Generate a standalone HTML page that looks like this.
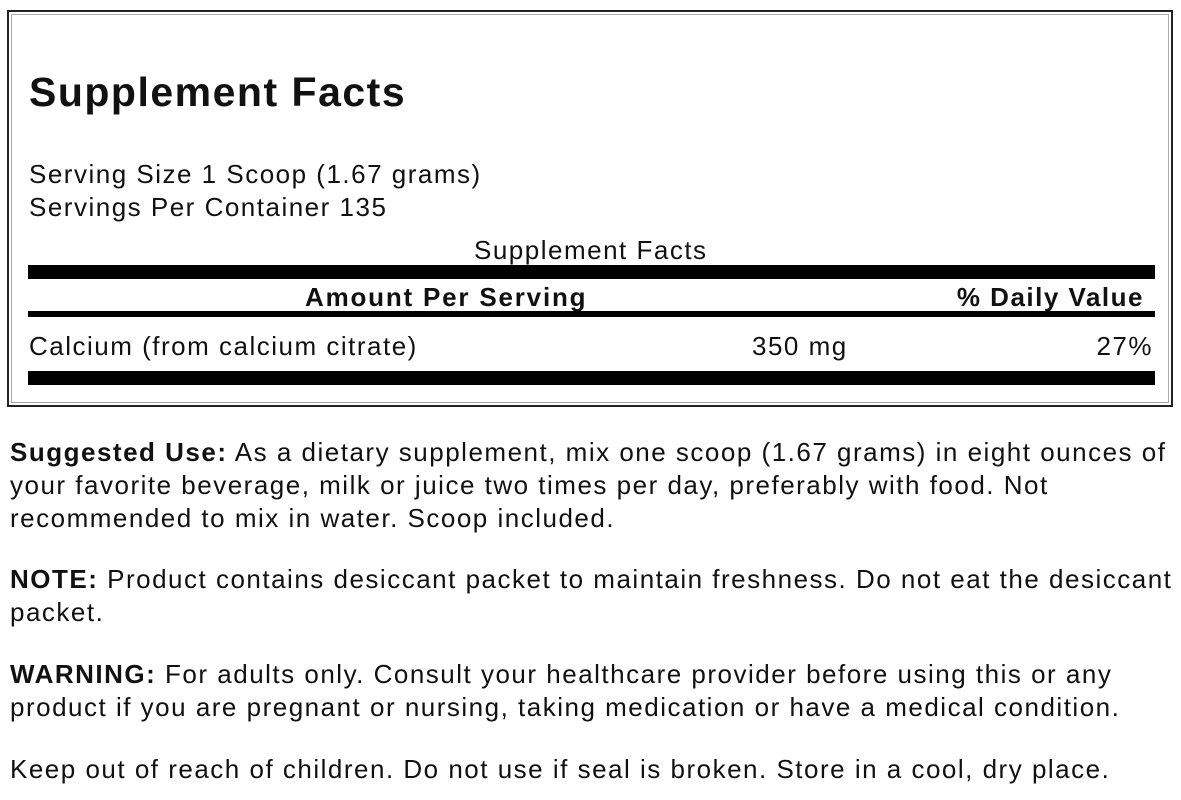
<!DOCTYPE html>
<html><head><style>
body{margin:0;width:1181px;height:800px;background:#fff;position:relative;overflow:hidden;font-family:"Liberation Sans",Arial,sans-serif;color:#111;letter-spacing:1.5px}
.a{position:absolute;white-space:nowrap;line-height:1}
.bar{position:absolute;background:#000;left:28px;width:1127px}
.t{font-size:26px}
</style></head><body>
<div style="position:absolute;left:7px;top:10px;width:1162px;height:393px;border:2px solid #222"></div>
<div style="position:absolute;left:11px;top:14px;width:1156px;height:387px;border:1px solid #aaa"></div>
<div class="a" style="left:29px;top:72px;font-size:41px;font-weight:bold">Supplement Facts</div>
<div class="a t" style="left:29px;top:161px">Serving Size 1 Scoop (1.67 grams)</div>
<div class="a t" style="left:29px;top:194px">Servings Per Container 135</div>
<div class="a t" style="left:474px;top:237px">Supplement Facts</div>
<div class="bar" style="top:265px;height:14px"></div>
<div class="a t" style="left:305px;top:284px;font-weight:bold;letter-spacing:1.8px">Amount Per Serving</div>
<div class="a t" style="right:37px;top:284px;font-weight:bold">% Daily Value</div>
<div class="bar" style="top:311px;height:6px"></div>
<div class="a t" style="left:29px;top:333px">Calcium (from calcium citrate)</div>
<div class="a t" style="left:752px;top:333px">350 mg</div>
<div class="a t" style="right:28px;top:333px">27%</div>
<div class="bar" style="top:371px;height:14px"></div>
<div class="a t" style="left:10px;top:439px"><b>Suggested Use:</b> As a dietary supplement, mix one scoop (1.67 grams) in eight ounces of</div>
<div class="a t" style="left:10px;top:472px">your favorite beverage, milk or juice two times per day, preferably with food. Not</div>
<div class="a t" style="left:10px;top:505px">recommended to mix in water. Scoop included.</div>
<div class="a t" style="left:10px;top:566px"><b>NOTE:</b> Product contains desiccant packet to maintain freshness. Do not eat the desiccant</div>
<div class="a t" style="left:10px;top:599px">packet.</div>
<div class="a t" style="left:10px;top:661px"><b>WARNING:</b> For adults only. Consult your healthcare provider before using this or any</div>
<div class="a t" style="left:10px;top:694px">product if you are pregnant or nursing, taking medication or have a medical condition.</div>
<div class="a t" style="left:10px;top:756px">Keep out of reach of children. Do not use if seal is broken. Store in a cool, dry place.</div>
</body></html>
